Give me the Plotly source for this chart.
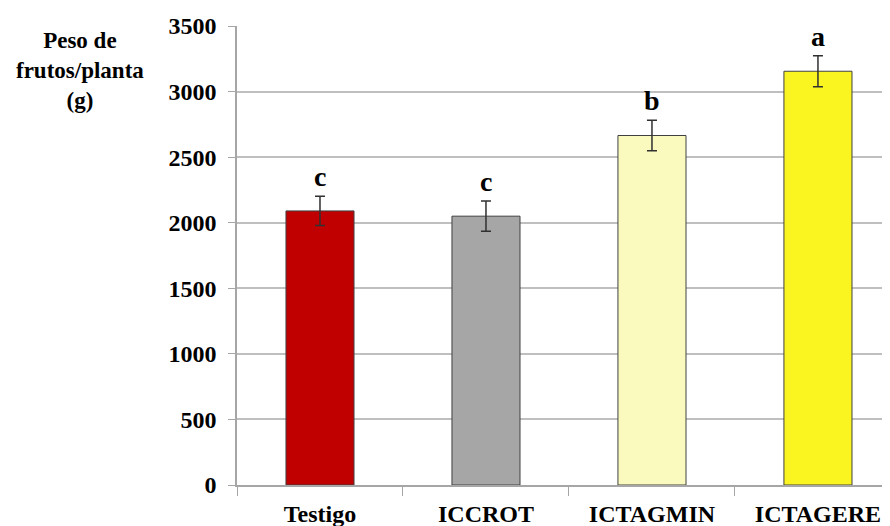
import plotly.graph_objects as go

categories = ["Testigo", "ICCROT", "ICTAGMIN", "ICTAGERE"]
values = [2090, 2050, 2665, 3155]
errors = [112, 115, 117, 118]
letters = ["c", "c", "b", "a"]
colors = ["#C00000", "#A6A6A6", "#FAFABE", "#FAF520"]
y_ticks = [0, 500, 1000, 1500, 2000, 2500, 3000, 3500]

font_family = "Liberation Serif"

fig = go.Figure()
fig.add_trace(go.Bar(
    x=categories, y=values,
    marker=dict(color=colors, line=dict(color="#404040", width=1)),
    width=0.41,
    error_y=dict(type="data", array=errors, visible=True, color="#303030",
                 thickness=1.5, width=5),
    showlegend=False,
))

for c, v, e, l in zip(categories, values, errors, letters):
    fig.add_annotation(x=c, y=v + e, text=l, showarrow=False,
                       yanchor="bottom", yshift=2,
                       font=dict(family=font_family, size=28, color="black", weight="bold"))

fig.add_annotation(xref="paper", yref="paper", x=-0.2404, y=0.904,
                   text="Peso de<br>frutos/planta<br>(g)", showarrow=False,
                   xanchor="center", yanchor="middle", align="center",
                   font=dict(family=font_family, size=23, color="black", weight="bold"))

fig.update_layout(
    width=882, height=518,
    margin=dict(l=229, r=0, t=18, b=41),
    plot_bgcolor="white", paper_bgcolor="white",
    xaxis=dict(
        type="category", range=[-0.5, 3.434],
        showline=True, linecolor="#A6A6A6", linewidth=1.5,
        ticks="outside", tickson="boundaries", ticklen=9, tickcolor="#A6A6A6",
        tickfont=dict(family=font_family, size=24, color="black", weight="bold"),
        ticklabelstandoff=6,
        showgrid=False,
    ),
    yaxis=dict(
        range=[0, 3500], tickvals=y_ticks,
        showline=True, linecolor="#A6A6A6", linewidth=1.5,
        ticks="outside", ticklen=7, tickcolor="#A6A6A6",
        showgrid=True, gridcolor="#BFBFBF", gridwidth=1.5,
        zeroline=False,
        tickfont=dict(family=font_family, size=24, color="black", weight="bold"),
        ticklabelstandoff=7,
    ),
)

fig.write_html("out.html")
